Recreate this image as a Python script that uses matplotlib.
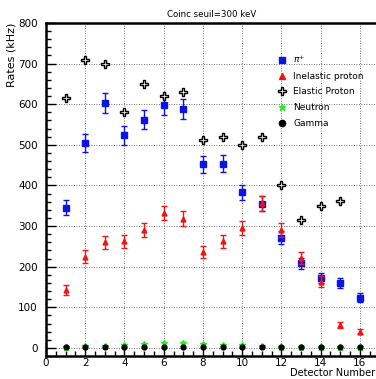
import numpy as np
import matplotlib
matplotlib.use("Agg")
import matplotlib.pyplot as plt
from matplotlib.ticker import MultipleLocator
from matplotlib.lines import Line2D

det = [1, 2, 3, 4, 5, 6, 7, 8, 9, 10, 11, 12, 13, 14, 15, 16]
pi_rate = [345, 505, 603, 523, 562, 597, 588, 452, 453, 383, 355, 271, 208, 172, 159, 123]
pi_err = [18, 22, 25, 23, 24, 24, 24, 21, 21, 19, 19, 16, 14, 13, 12, 11]
inel_rate = [143, 225, 260, 262, 290, 332, 318, 236, 262, 295, 356, 291, 221, 163, 56, 40]
inel_err = [12, 15, 16, 16, 17, 18, 18, 15, 16, 17, 19, 17, 15, 13, 7, 6]
el_det = [1, 2, 3, 4, 5, 6, 7, 8, 9, 10, 11, 12, 13, 14, 15]
el_rate = [615, 710, 700, 580, 650, 620, 630, 511, 520, 500, 520, 401, 315, 350, 361]
neut_rate = [2, 5, 5, 8, 10, 12, 13, 10, 7, 7, 5, 3, 3, 2, 2, 2]
gamma_rate = [1, 2, 2, 2, 2, 2, 3, 2, 2, 2, 2, 3, 1, 1, 1, 1]

BLUE, RED, GREEN = "#0a14e6", "#f01414", "#22ee22"

fig = plt.figure(figsize=(3.76, 3.79), dpi=100)
ax = fig.add_axes([0.1223, 0.0607, 0.887, 0.8786])
ax.set_xlim(0, 17)
ax.set_ylim(-20, 800)

ax.errorbar(det, pi_rate, yerr=pi_err, fmt="s", color=BLUE, ms=3.8, capsize=2,
            elinewidth=1, capthick=1, zorder=4)
ax.errorbar(det, inel_rate, yerr=inel_err, fmt="^", color=RED, ms=3.5, capsize=2,
            elinewidth=1, capthick=1, zorder=5)
ax.plot(el_det, el_rate, "P", mfc="white", mec="black", mew=1.0, ms=5.5, ls="none", zorder=4)
ax.plot(det, neut_rate, "*", color=GREEN, ms=4.5, ls="none", zorder=4)
ax.plot(det, gamma_rate, "o", color="black", ms=3.5, ls="none", zorder=5)

ax.xaxis.set_major_locator(MultipleLocator(2))
ax.xaxis.set_minor_locator(MultipleLocator(0.5))
ax.yaxis.set_major_locator(MultipleLocator(100))
ax.yaxis.set_minor_locator(MultipleLocator(20))
ax.tick_params(which="both", direction="in", top=False, right=False, labelsize=7.5)
ax.tick_params(which="major", length=7, width=1)
ax.tick_params(which="minor", length=3.5, width=1)
ax.tick_params(axis="x", pad=1.5)
ax.tick_params(axis="y", pad=6)
ax.grid(True, which="major", ls=(0, (1, 2)), color="#444444", lw=0.6)
for s in ["left", "bottom", "top"]:
    ax.spines[s].set_linewidth(1.8)

ax.set_ylabel("Rates (kHz)", fontsize=8, ha="right", y=1.0, labelpad=1)
fig.text(0.997, 0.017, "Detector Number", fontsize=7, ha="right", va="center")
fig.text(0.564, 0.962, "Coinc seuil=300 keV", fontsize=6.2, ha="center", va="center")

# legend: plain markers, no error bars
handles = [
    Line2D([], [], marker="s", color=BLUE, ls="none", ms=5),
    Line2D([], [], marker="^", color=RED, ls="none", ms=4.5),
    Line2D([], [], marker="P", mfc="white", mec="black", mew=1.0, ls="none", ms=5.5),
    Line2D([], [], marker="*", color=GREEN, ls="none", ms=4.5),
    Line2D([], [], marker="o", color="black", ls="none", ms=4.5),
]
labels = [r"$\pi^{+}$", "Inelastic proton", "Elastic Proton", "Neutron", "Gamma"]
ax.legend(handles, labels, loc="upper left", bbox_to_anchor=(0.682, 0.92), frameon=False,
          fontsize=6.5, handlelength=1.0, handletextpad=0.8, labelspacing=0.75, borderaxespad=0)

fig.savefig("out.png", dpi=100)
